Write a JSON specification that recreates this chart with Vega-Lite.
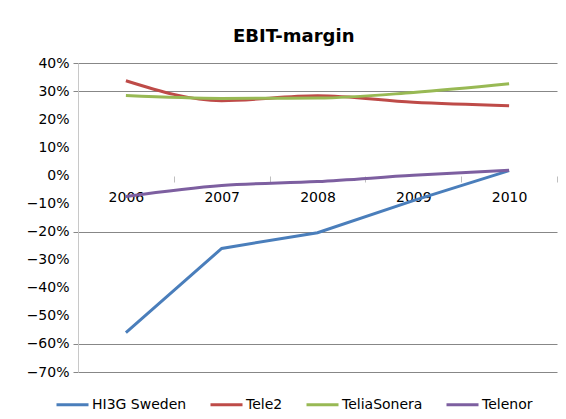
{
  "$schema": "https://vega.github.io/schema/vega-lite/v6.json",
  "width": 479,
  "height": 309,
  "autosize": {"type": "none"},
  "padding": {"left": 78, "top": 63, "right": 9, "bottom": 47},
  "background": "white",
  "title": {"text": "EBIT-margin", "fontSize": 18, "fontWeight": "bold", "font": "DejaVu Sans", "color": "black", "anchor": "start", "frame": "group", "dx": 155, "dy": 16, "baseline": "alphabetic", "offset": 12},
  "config": {"view": {"stroke": null}, "font": "DejaVu Sans"},
  "data": {"values": [
    {"year": "2006", "company": "HI3G Sweden", "margin": -0.56},
    {"year": "2007", "company": "HI3G Sweden", "margin": -0.26},
    {"year": "2008", "company": "HI3G Sweden", "margin": -0.204},
    {"year": "2009", "company": "HI3G Sweden", "margin": -0.09},
    {"year": "2010", "company": "HI3G Sweden", "margin": 0.017},
    {"year": "2006", "company": "Tele2", "margin": 0.337},
    {"year": "2007", "company": "Tele2", "margin": 0.266},
    {"year": "2008", "company": "Tele2", "margin": 0.283},
    {"year": "2009", "company": "Tele2", "margin": 0.26},
    {"year": "2010", "company": "Tele2", "margin": 0.248},
    {"year": "2006", "company": "TeliaSonera", "margin": 0.284},
    {"year": "2007", "company": "TeliaSonera", "margin": 0.274},
    {"year": "2008", "company": "TeliaSonera", "margin": 0.275},
    {"year": "2009", "company": "TeliaSonera", "margin": 0.295},
    {"year": "2010", "company": "TeliaSonera", "margin": 0.326},
    {"year": "2006", "company": "Telenor", "margin": -0.075},
    {"year": "2007", "company": "Telenor", "margin": -0.036},
    {"year": "2008", "company": "Telenor", "margin": -0.022},
    {"year": "2009", "company": "Telenor", "margin": 0.0},
    {"year": "2010", "company": "Telenor", "margin": 0.018}
  ]},
  "encoding": {
    "x": {
      "field": "year", "type": "ordinal",
      "scale": {"type": "band", "paddingInner": 0, "paddingOuter": 0},
      "bandPosition": 0.5,
      "axis": {"title": null, "orient": "bottom", "offset": -196, "domain": false, "tickBand": "extent", "tickColor": "#bfbfbf", "tickSize": 6, "labelAngle": 0, "labelFontSize": 14, "labelFont": "DejaVu Sans", "labelColor": "black", "labelPadding": 8, "grid": false}
    },
    "y": {
      "field": "margin", "type": "quantitative",
      "scale": {"domain": [-0.7, 0.4], "nice": false, "zero": false},
      "axis": {
        "title": null,
        "values": [0.4, 0.3, 0.2, 0.1, 0, -0.1, -0.2, -0.3, -0.4, -0.5, -0.6, -0.7],
        "format": ".0%",
        "labelFontSize": 14, "labelFont": "DejaVu Sans", "labelColor": "black", "labelPadding": 4,
        "tickSize": 5, "domainColor": "#c8c8c8",
        "grid": true, "gridColor": "#878787",
        "gridOpacity": {"condition": {"test": "datum.value > 0.25 || datum.value < -0.55 || abs(datum.value + 0.2) < 0.01", "value": 1}, "value": 0},
        "tickColor": "#878787",
        "tickOpacity": {"condition": {"test": "datum.value > 0.25 || datum.value < -0.55 || abs(datum.value + 0.2) < 0.01", "value": 1}, "value": 0}
      }
    },
    "color": {
      "field": "company", "type": "nominal",
      "scale": {"domain": ["HI3G Sweden", "Tele2", "TeliaSonera", "Telenor"], "range": ["#4A7EBB", "#BE4B48", "#98B954", "#7D5FA0"]},
      "legend": {"title": null, "orient": "none", "legendX": -23, "legendY": 324, "direction": "horizontal", "symbolType": "stroke", "symbolStrokeWidth": 3, "symbolSize": 1024, "labelFontSize": 14, "labelFont": "DejaVu Sans", "labelColor": "black", "labelOffset": 2, "columnPadding": 17}
    }
  },
  "layer": [
    {"transform": [{"filter": "datum.company == 'HI3G Sweden'"}], "mark": {"type": "line", "strokeWidth": 3}},
    {"transform": [{"filter": "datum.company != 'HI3G Sweden'"}], "mark": {"type": "line", "strokeWidth": 3, "interpolate": "monotone"}}
  ]
}
